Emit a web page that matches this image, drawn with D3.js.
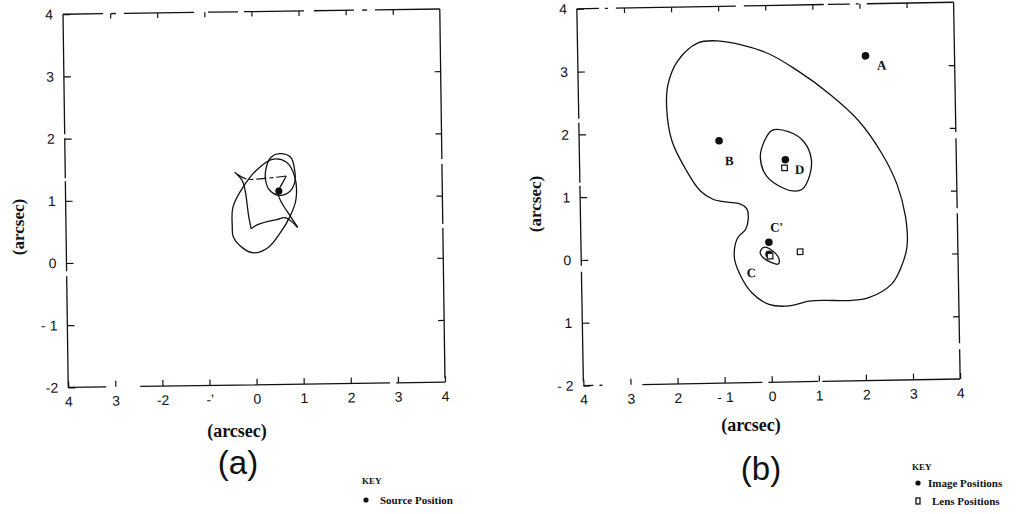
<!DOCTYPE html>
<html>
<head>
<meta charset="utf-8">
<script src="https://cdn.jsdelivr.net/npm/d3@7"></script>
<style>
  body { margin: 0; background: #fff; }
  .axis text { font-family: 'Liberation Sans', Arial, sans-serif; font-size: 14px; fill: #111; }
  .axis line { stroke: #111; stroke-width: 1.2; }
  .title { font-family: 'Liberation Serif', 'Times New Roman', serif; font-weight: bold; fill: #111; }
  .key { font-family: 'Liberation Serif', 'Times New Roman', serif; font-weight: bold; fill: #111; }
</style>
</head>
<body>
<div id="fig"></div>
<script>
(function(){
  'use strict';

  // axis ticks and labels (as printed, minus signs partly lost in the scan)
  var xTickVals = [-4, -3, -2, -1, 0, 1, 2, 3, 4],
      yTickVals = [4, 3, 2, 1, 0, -1, -2],
      xInner = [-3, -2, -1, 0, 1, 2, 3],
      yInner = [3, 2, 1, 0, -1];
  var xLabelsA = ['4', '3', '-2', '-\u2019', '0', '1', '2', '3', '4'],
      yLabelsA = ['4', '3', '2', '1', '0', '- 1', '-2'],
      xLabelsB = ['4', '3', '2', '- 1', '0', '1', '2', '3', '4'],
      yLabelsB = ['4', '3', '2', '1', '0', '1', '- 2'];

  // panel (a): caustics in the source plane
  var outerCaustic = [[-0.45,0.86],[-0.23,1.18],[0.06,1.45],[0.40,1.62],[0.70,1.57],[0.87,1.34],
                      [0.89,0.97],[0.76,0.70],[0.55,0.44],[0.28,0.20],[-0.02,0.12],[-0.25,0.20],
                      [-0.45,0.38],[-0.47,0.56]];
  var smallCaustic = [[0.55,1.71],[0.79,1.65],[0.87,1.45],[0.87,1.25],[0.76,1.10],[0.55,1.04],
                      [0.34,1.12],[0.25,1.29],[0.28,1.52],[0.38,1.66]];
  var cuspEdges = [
    [[-0.40,1.42],[-0.24,1.28],[-0.18,1.10],[-0.15,0.92],[-0.12,0.72],[-0.07,0.51]],
    [[-0.07,0.51],[0.06,0.57],[0.27,0.62],[0.48,0.65],[0.66,0.68],[0.92,0.52]],
    [[0.92,0.52],[0.70,0.78],[0.60,0.90],[0.52,1.05],[0.55,1.16],[0.62,1.25],[0.69,1.35]]
  ];
  var cuspTopEdge = [[0.69,1.35],[0.45,1.33],[0.13,1.31],[-0.15,1.31],[-0.40,1.42]];
  var sourcePos = [[0.53, 1.11]];

  // panel (b): critical curves in the image plane
  var outerCritical = [[-1.03,3.45],[-0.03,3.26],[0.67,2.95],[1.37,2.55],[1.94,2.14],[2.43,1.60],
                       [2.73,1.12],[2.90,0.60],[2.92,0.12],[2.79,-0.20],[2.58,-0.47],[2.09,-0.68],
                       [1.67,-0.72],[1.16,-0.71],[0.82,-0.72],[0.39,-0.79],[-0.03,-0.76],[-0.39,-0.57],
                       [-0.65,-0.25],[-0.75,0.01],[-0.67,0.31],[-0.50,0.44],[-0.44,0.60],[-0.46,0.76],
                       [-0.61,0.85],[-0.88,0.88],[-1.18,0.93],[-1.45,1.07],[-1.73,1.39],[-2.03,1.87],
                       [-2.13,2.40],[-2.09,2.78],[-1.88,3.14],[-1.45,3.42]];
  var innerCriticalD = [[0.10,2.01],[0.46,1.98],[0.77,1.82],[0.92,1.55],[0.88,1.28],[0.71,1.06],
                        [0.52,1.04],[0.31,1.09],[-0.03,1.28],[-0.16,1.58],[-0.07,1.84]];
  var innerCriticalC = [[-0.12,0.15],[0.07,0.09],[0.20,-0.04],[0.18,-0.12],[0.03,-0.09],
                        [-0.14,-0.01],[-0.20,0.07]];
  var imageNames = ['A', 'B', 'D', "C'", 'C'],
      imagePos = [[2.11,3.17],[-1.03,1.86],[0.37,1.54],[-0.01,0.23],[-0.01,0.04]],
      imageLabelPos = [[2.45,3.02],[-0.82,1.54],[0.67,1.38],[0.16,0.47],[-0.39,-0.25]];
  var lensPos = [[0.35,1.41],[0.01,0.01],[0.65,0.07]];

  var keyA = ['Source Position'],
      keyB = ['Image Positions', 'Lens Positions'];

  var svg = d3.select('#fig').append('svg')
    .attr('width', 1016)
    .attr('height', 514);

  function panel(box, xLabels, yLabels) {
    var x = d3.scaleLinear().domain([-4, 4]).range([box.l, box.r]),
        y = d3.scaleLinear().domain([-2, 4]).range([box.b, box.t]);
    var cx = (box.l + box.r) / 2, cy = (box.t + box.b) / 2;
    var g = svg.append('g').attr('transform', 'rotate(' + box.rot + ',' + cx + ',' + cy + ')');

    // broken frame, the way the scan shows it
    var sides = [
      [box.l, box.t, box.r, box.t, box.dash[0]],
      [box.l, box.t, box.l, box.b, box.dash[1]],
      [box.r, box.t, box.r, box.b, box.dash[2]],
      [box.l, box.b, box.r, box.b, box.dash[3]]
    ];
    g.selectAll('.side').data(sides).enter().append('line')
      .attr('x1', function(d){ return d[0]; })
      .attr('y1', function(d){ return d[1]; })
      .attr('x2', function(d){ return d[2]; })
      .attr('y2', function(d){ return d[3]; })
      .attr('stroke', '#111')
      .attr('stroke-width', 1.3)
      .attr('stroke-dasharray', function(d){ return d[4]; });

    g.append('g').attr('class', 'axis').attr('transform', 'translate(0,' + box.b + ')')
      .call(d3.axisBottom(x).tickValues(xTickVals)
        .tickFormat(function(d, i){ return xLabels[i]; })
        .tickSizeInner(-6).tickSizeOuter(0).tickPadding(9));
    g.append('g').attr('class', 'axis').attr('transform', 'translate(' + box.l + ',0)')
      .call(d3.axisLeft(y).tickValues(yTickVals)
        .tickFormat(function(d, i){ return yLabels[i]; })
        .tickSizeInner(-7).tickSizeOuter(0).tickPadding(10));
    g.append('g').attr('class', 'axis').attr('transform', 'translate(0,' + box.t + ')')
      .call(d3.axisTop(x).tickValues(xInner).tickFormat('').tickSizeInner(-5).tickSizeOuter(0));
    g.append('g').attr('class', 'axis').attr('transform', 'translate(' + box.r + ',0)')
      .call(d3.axisRight(y).tickValues(yInner).tickFormat('').tickSizeInner(-6).tickSizeOuter(0));
    g.selectAll('.domain').remove();

    // axis titles
    svg.append('text').attr('class', 'title')
      .attr('x', box.xt[0]).attr('y', box.xt[1])
      .attr('text-anchor', 'middle').style('font-size', '18px')
      .text('(arcsec)');
    svg.append('text').attr('class', 'title')
      .attr('transform', 'translate(' + box.yt[0] + ',' + box.yt[1] + ') rotate(-90)')
      .attr('text-anchor', 'middle').attr('dy', '0.35em').style('font-size', '17px')
      .text('(arcsec)');
    svg.append('text')
      .attr('x', box.lab[0]).attr('y', box.lab[1])
      .attr('text-anchor', 'middle')
      .style('font-family', "'Liberation Sans', Arial, sans-serif")
      .style('font-size', '33px').style('fill', '#111')
      .text(box.name);

    return {g: g, x: x, y: y};
  }

  var pa = panel({l: 65.6, r: 442.4, t: 11.6, b: 384.8, rot: -0.8,
                  dash: ['40 8 5 8 70 14 30 6 60 10', '120 4 40 3 90 5', '150 5 60 4', '38 34 250 6 80'],
                  xt: [237, 437], yt: [18, 227], lab: [238, 474], name: '(a)'},
                 xLabelsA, yLabelsA);
  var pb = panel({l: 580.1, r: 956.9, t: 5.5, b: 382.3, rot: -1.0,
                  dash: ['22 6 3 8 120 8 80 4', '110 4 60 3 80 6', '130 6 70 5', '10 6 3 40 120 6 50 4 200'],
                  xt: [751, 431], yt: [535, 204], lab: [761, 480], name: '(b)'},
                 xLabelsB, yLabelsB);

  function closedLine(p) {
    return d3.line().x(function(d){ return p.x(d[0]); }).y(function(d){ return p.y(d[1]); })
      .curve(d3.curveCatmullRomClosed);
  }
  function openLine(p) {
    return d3.line().x(function(d){ return p.x(d[0]); }).y(function(d){ return p.y(d[1]); })
      .curve(d3.curveCatmullRom);
  }

  // ---- panel (a)
  pa.g.selectAll('.closed').data([outerCaustic, smallCaustic]).enter().append('path')
    .attr('d', closedLine(pa))
    .attr('fill', 'none').attr('stroke', '#111').attr('stroke-width', 1.3);
  pa.g.selectAll('.edge').data(cuspEdges).enter().append('path')
    .attr('d', openLine(pa))
    .attr('fill', 'none').attr('stroke', '#111').attr('stroke-width', 1.3);
  pa.g.append('path').datum(cuspTopEdge)
    .attr('d', openLine(pa))
    .attr('fill', 'none').attr('stroke', '#111').attr('stroke-width', 1.2)
    .attr('stroke-dasharray', '10 3 4 3');
  pa.g.selectAll('.src').data(sourcePos).enter().append('circle')
    .attr('cx', function(d){ return pa.x(d[0]); })
    .attr('cy', function(d){ return pa.y(d[1]); })
    .attr('r', 3.6).attr('fill', '#111');

  // ---- panel (b)
  pb.g.selectAll('.closed').data([outerCritical, innerCriticalD, innerCriticalC]).enter().append('path')
    .attr('d', closedLine(pb))
    .attr('fill', 'none').attr('stroke', '#111').attr('stroke-width', 1.3);
  pb.g.selectAll('.img').data(imagePos).enter().append('circle')
    .attr('cx', function(d){ return pb.x(d[0]); })
    .attr('cy', function(d){ return pb.y(d[1]); })
    .attr('r', 3.8).attr('fill', '#111');
  pb.g.selectAll('.lens').data(lensPos).enter().append('rect')
    .attr('x', function(d){ return pb.x(d[0]) - 2.8; })
    .attr('y', function(d){ return pb.y(d[1]) - 2.8; })
    .attr('width', 5.6).attr('height', 5.6)
    .attr('fill', '#fff').attr('stroke', '#111').attr('stroke-width', 1.2);
  pb.g.selectAll('.imgname').data(imageLabelPos).enter().append('text')
    .attr('class', 'title')
    .attr('x', function(d){ return pb.x(d[0]); })
    .attr('y', function(d){ return pb.y(d[1]); })
    .attr('text-anchor', 'middle').attr('dy', '0.35em')
    .style('font-size', '13px')
    .text(function(d, i){ return imageNames[i]; });

  // ---- keys
  svg.append('text').attr('class', 'key').attr('x', 362).attr('y', 484)
    .style('font-size', '9px').text('KEY');
  svg.append('circle').attr('cx', 366).attr('cy', 500).attr('r', 2.6).attr('fill', '#111');
  svg.selectAll('.keyA').data(keyA).enter().append('text').attr('class', 'key')
    .attr('x', 380).attr('y', 503.5).style('font-size', '11px')
    .text(function(d){ return d; });

  svg.append('text').attr('class', 'key').attr('x', 912).attr('y', 470)
    .style('font-size', '9px').text('KEY');
  svg.append('circle').attr('cx', 918).attr('cy', 483).attr('r', 2.6).attr('fill', '#111');
  svg.append('rect').attr('x', 916).attr('y', 498).attr('width', 4).attr('height', 6)
    .attr('fill', '#fff').attr('stroke', '#111').attr('stroke-width', 1.3);
  svg.selectAll('.keyB').data(keyB).enter().append('text').attr('class', 'key')
    .attr('x', function(d, i){ return i === 0 ? 928 : 932; })
    .attr('y', function(d, i){ return i === 0 ? 486.5 : 504.5; })
    .style('font-size', '11px')
    .text(function(d){ return d; });

}());
</script>
</body>
</html>
